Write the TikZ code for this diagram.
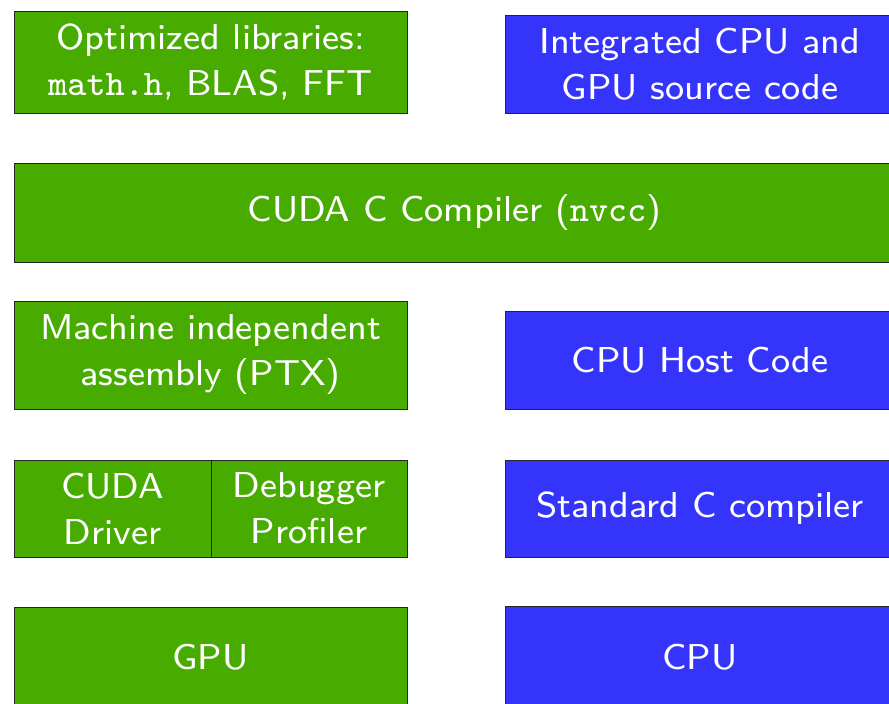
\documentclass[tikz,border=0pt]{standalone}
\usepackage{fontspec}
\setsansfont{lmsans8-regular}[Extension=.otf]
\setmonofont{lmmono8-regular}[Extension=.otf]
\definecolor{gcol}{RGB}{72,172,0}
\definecolor{bcol}{RGB}{52,52,250}
\begin{document}
\begin{tikzpicture}[x=1pt,y=-1pt,
  box/.style={draw=black!85, line width=0.9pt, text=white, align=center, inner sep=0pt,
    font=\fontsize{36}{46}\selectfont\sffamily},
  gbox/.style={box, fill=gcol},
  bbox/.style={box, fill=bcol}]
\useasboundingbox (0,0) rectangle (889,704);
\clip (0,0) rectangle (889,704);
\fill[white] (0,0) rectangle (889,704);
\node[gbox, minimum width=393pt, minimum height=102pt] (A) at (210.5,62) {Optimized libraries:\\\texttt{math.h}, BLAS, FFT};
\node[bbox, minimum width=390pt, minimum height=98pt] (B) at (700,64) {Integrated CPU and\\GPU source code};
\node[gbox, minimum width=881pt, minimum height=99pt] (C) at (454.5,212.5) {CUDA C Compiler (\texttt{nvcc})};
\node[gbox, minimum width=393pt, minimum height=108pt] (D) at (210.5,355) {Machine independent\\assembly (PTX)};
\node[bbox, minimum width=390pt, minimum height=98pt] (E) at (700,360) {CPU Host Code};
\node[gbox, minimum width=197pt, minimum height=97pt] (F1) at (112.5,508.5) {CUDA\\Driver};
\node[gbox, minimum width=196pt, minimum height=97pt] (F2) at (309,508.5) {Debugger\\Profiler};
\node[bbox, minimum width=390pt, minimum height=97pt] (G) at (700,508.5) {Standard C compiler};
\node[gbox, minimum width=393pt, minimum height=100pt] (H) at (210.5,657) {GPU};
\node[bbox, minimum width=390pt, minimum height=102pt] (I) at (700,657) {CPU};
\end{tikzpicture}
\end{document}
